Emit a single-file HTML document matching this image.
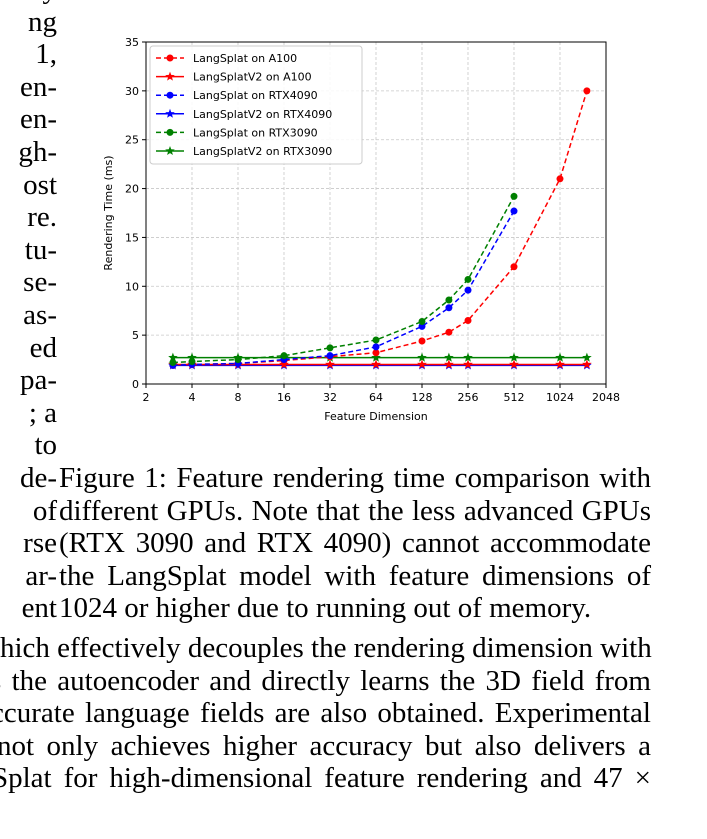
<!DOCTYPE html>
<html><head><meta charset="utf-8"><style>
body{margin:0;width:707px;height:839px;overflow:hidden;background:#fff;position:relative;font-family:"Liberation Serif",serif;}
.t{position:absolute;font-size:29px;line-height:32.6px;white-space:nowrap;color:#000;}
#left{right:650px;top:-27px;text-align:right;}
#cap{left:59px;top:462px;width:592px;}
#cap div,#bot div{text-align:justify;text-align-last:justify;white-space:nowrap;}
#cap div:last-child{text-align-last:left;}
#bot{left:0;top:632px;width:651px;}
svg text{font-family:"DejaVu Sans","Liberation Sans",sans-serif;}
</style></head><body>
<div class="t" id="left">lly<br>ng<br>1,<br>en-<br>en-<br>gh-<br>ost<br>re.<br>tu-<br>se-<br>as-<br>ed<br>pa-<br>; a<br>to<br>de-<br>of<br>rse<br>ar-<br>ent</div>
<div class="t" id="cap"><div>Figure 1: Feature rendering time comparison with</div><div>different GPUs. Note that the less advanced GPUs</div><div>(RTX 3090 and RTX 4090) cannot accommodate</div><div>the LangSplat model with feature dimensions of</div><div>1024 or higher due to running out of memory.</div></div>
<div class="t" id="bot"><div style="margin-left:-21px">which effectively decouples the rendering dimension with</div><div style="margin-left:-10px">s the autoencoder and directly learns the 3D field from</div><div style="margin-left:-9px">ccurate language fields are also obtained. Experimental</div><div style="margin-left:-3px">not only achieves higher accuracy but also delivers a</div><div style="margin-left:-8px">Splat for high-dimensional feature rendering and 47 ×</div></div>
<svg id="chart" width="707" height="460" style="position:absolute;left:0;top:0"></svg>
<script>
const xTicks=[2,4,8,16,32,64,128,256,512,1024,2048];
const yTicks=[0,5,10,15,20,25,30,35];
const dims=[3,4,8,16,32,64,128,192,256,512,1024,1536];
const dims5=[3,4,8,16,32,64,128,192,256,512];
const lsA100=[1.9,2.0,2.1,2.4,2.8,3.2,4.4,5.3,6.5,12.0,21.0,30.0];
const v2A100=[2.0,2.0,2.0,2.0,2.0,2.0,2.0,2.0,2.0,2.0,2.0,2.0];
const ls4090=[1.9,2.0,2.1,2.5,2.9,3.8,5.9,7.8,9.6,17.7];
const v24090=[1.9,1.9,1.9,1.9,1.9,1.9,1.9,1.9,1.9,1.9,1.9,1.9];
const ls3090=[2.2,2.3,2.5,2.9,3.7,4.5,6.4,8.6,10.7,19.2];
const v23090=[2.7,2.7,2.7,2.7,2.7,2.7,2.7,2.7,2.7,2.7,2.7,2.7];
const L=146,R=606,T=42,B=384;
const X=v=>L+(Math.log2(v)-1)/10*(R-L);
const Y=v=>B-v/35*(B-T);
const svg=document.getElementById('chart');const NS='http://www.w3.org/2000/svg';
function mk(tag,a,p){const e=document.createElementNS(NS,tag);for(const k in a)e.setAttribute(k,a[k]);(p||svg).appendChild(e);return e;}
xTicks.forEach(v=>{const g=mk('line',{x1:X(v),x2:X(v),y1:T,y2:B,stroke:'#c8c8c8','stroke-dasharray':'3,2','stroke-width':0.8});

mk('line',{x1:X(v),x2:X(v),y1:B,y2:B+4,stroke:'#000'});
const t=mk('text',{x:X(v),y:B+17,'font-size':11,'text-anchor':'middle'});t.textContent=v;
});
yTicks.forEach(v=>{const g=mk('line',{x1:L,x2:R,y1:Y(v),y2:Y(v),stroke:'#c8c8c8','stroke-dasharray':'3,2','stroke-width':0.8});

mk('line',{x1:L-4,x2:L,y1:Y(v),y2:Y(v),stroke:'#000'});
const t=mk('text',{x:L-7,y:Y(v)+4,'font-size':11,'text-anchor':'end'});t.textContent=v;
});
const fr=mk('rect',{x:L,y:T,width:R-L,height:B-T,fill:'none',stroke:'#000','stroke-width':1});

function star(cx,cy,r,c){let p=[];for(let i=0;i<10;i++){const a=-Math.PI/2+i*Math.PI/5,rr=i%2?r*0.42:r;p.push((cx+rr*Math.cos(a)).toFixed(1)+','+(cy+rr*Math.sin(a)).toFixed(1));}
const s=mk('polygon',{points:p.join(' '),fill:c});}
function series(xs,ys,c,dashed,name){const pts=ys.map((v,i)=>X(xs[i])+','+Y(v)).join(' ');
const pl=mk('polyline',{points:pts,fill:'none',stroke:c,'stroke-width':1.5,'stroke-dasharray':dashed?'5,3':'none'});

ys.forEach((v,i)=>{if(dashed){const m=mk('circle',{cx:X(xs[i]),cy:Y(v),r:3.5,fill:c});}else star(X(xs[i]),Y(v),5,c);});}
series(dims,v24090,'#0000ff',false,'langsplatv2-rtx4090-line');
series(dims,v2A100,'#ff0000',false,'langsplatv2-a100-line');
series(dims,v23090,'#008000',false,'langsplatv2-rtx3090-line');
series(dims,lsA100,'#ff0000',true,'langsplat-a100-line');
series(dims5,ls4090,'#0000ff',true,'langsplat-rtx4090-line');
series(dims5,ls3090,'#008000',true,'langsplat-rtx3090-line');
const xl=mk('text',{x:(L+R)/2,y:B+36,'font-size':11,'text-anchor':'middle'});xl.textContent='Feature Dimension';

const yl=mk('text',{x:0,y:0,'font-size':11,'text-anchor':'middle',transform:`translate(112,${(T+B)/2}) rotate(-90)`});yl.textContent='Rendering Time (ms)';

const lg=mk('rect',{x:150,y:46,width:212,height:118,fill:'#fff','fill-opacity':0.85,stroke:'#ccc',rx:3});

const leg=[['LangSplat on A100','#ff0000',1],['LangSplatV2 on A100','#ff0000',0],['LangSplat on RTX4090','#0000ff',1],['LangSplatV2 on RTX4090','#0000ff',0],['LangSplat on RTX3090','#008000',1],['LangSplatV2 on RTX3090','#008000',0]];
leg.forEach((e,i)=>{const y=58+i*18.6;
mk('line',{x1:156,x2:184,y1:y,y2:y,stroke:e[1],'stroke-width':1.5,'stroke-dasharray':e[2]?'5,3':'none'});
if(e[2]){mk('circle',{cx:170,cy:y,r:3.5,fill:e[1]});}else star(170,y,5,e[1]);
const t=mk('text',{x:193,y:y+4,'font-size':11});t.textContent=e[0];
});
</script>
</body></html>
